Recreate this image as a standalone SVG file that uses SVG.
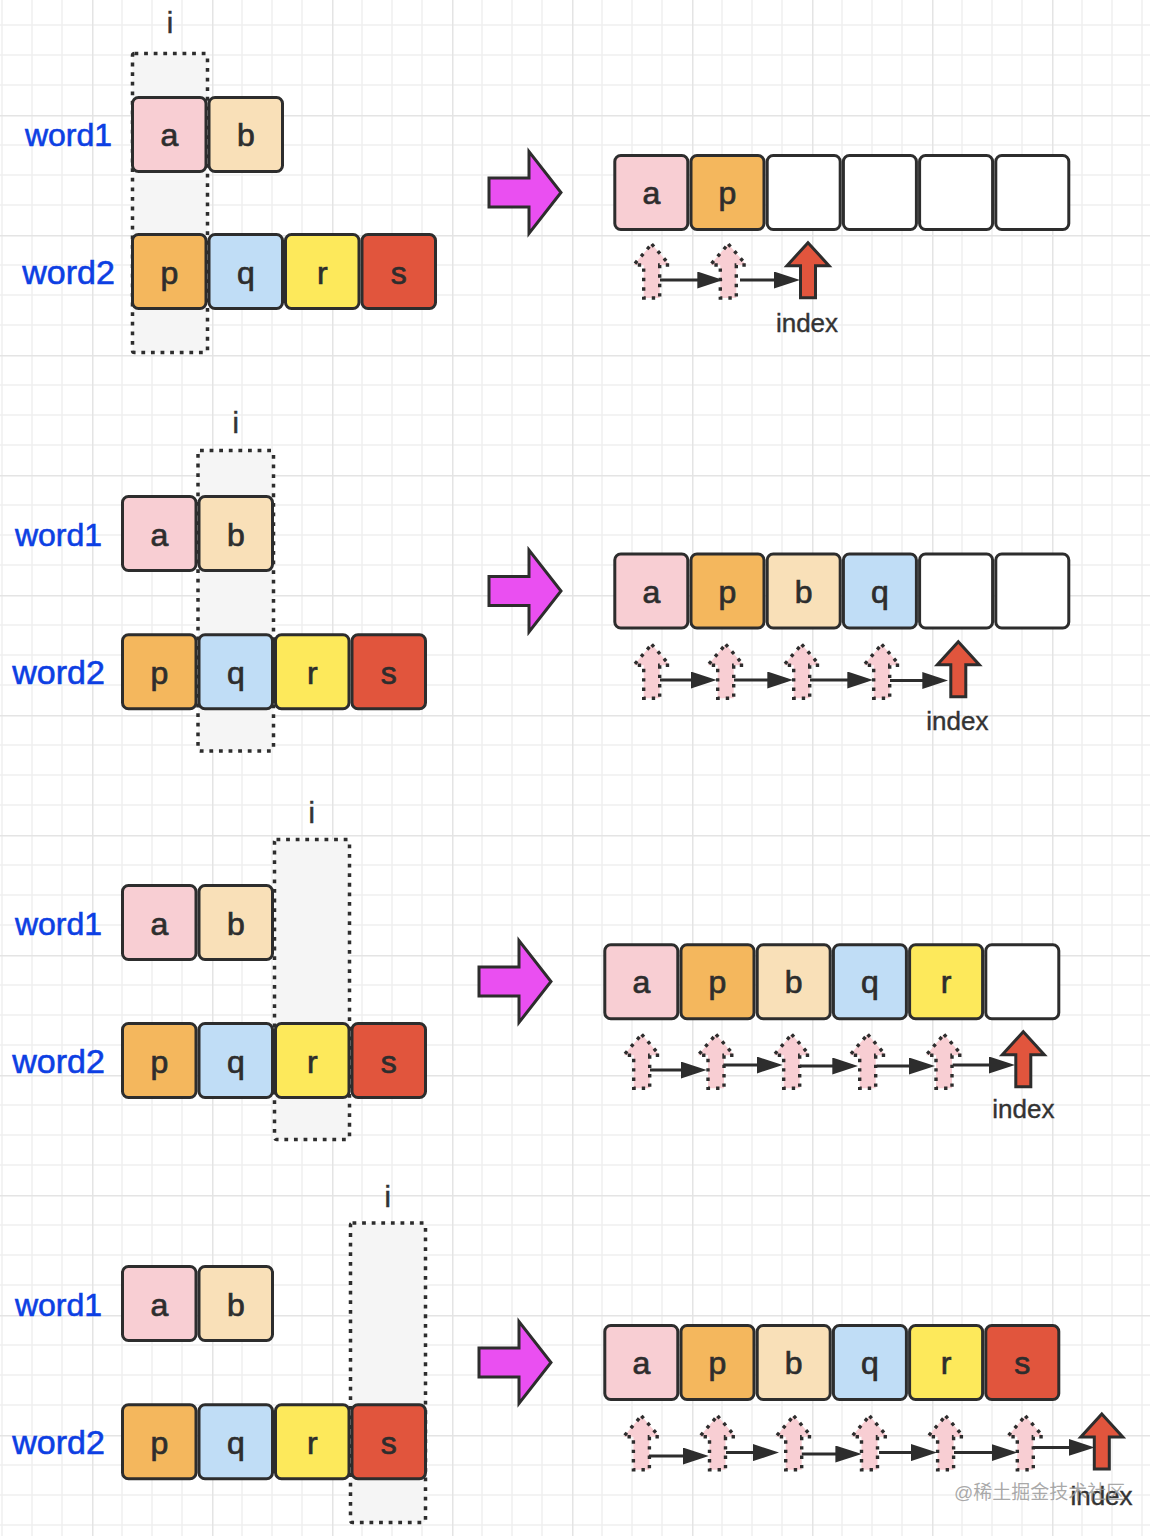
<svg xmlns="http://www.w3.org/2000/svg" width="1150" height="1536" viewBox="0 0 1150 1536">
<style>
text{font-family:"Liberation Sans",Arial,Helvetica,sans-serif;}
.cell{stroke:#2d2d2d;stroke-width:3;}
.ca{fill:#f8ced3}.cb{fill:#f9e0b8}.cp{fill:#f4b75d}.cq{fill:#c0ddf6}.cr{fill:#fde95b}.cs{fill:#e1553d}.cw{fill:#ffffff}
.ch{font-size:32px;fill:#2d2d2d;stroke:#2d2d2d;stroke-width:0.7;text-anchor:middle;}
.w1{font-size:32px;fill:#0d3fe3;stroke:#0d3fe3;stroke-width:0.6;text-anchor:middle;}
.w2{font-size:34px;fill:#0d3fe3;stroke:#0d3fe3;stroke-width:0.6;text-anchor:middle;}
.li{font-size:29px;fill:#333;stroke:#333;stroke-width:0.5;text-anchor:middle;}
.idx{font-size:26px;fill:#333;stroke:#333;stroke-width:0.4;text-anchor:middle;}
.win{fill:#f5f5f5;stroke:#2d2d2d;stroke-width:3.5;stroke-dasharray:3.8 5.8;}
.mag{fill:#ea4ff1;stroke:#2d2d2d;stroke-width:3;stroke-linejoin:miter;}
.conn{stroke:#2d2d2d;stroke-width:3;fill:none;marker-end:url(#ah);}
</style>
<defs>
<pattern id="grid" width="120" height="120" patternUnits="userSpaceOnUse" x="-28" y="-5">
<path d="M30 0V120M60 0V120M90 0V120M0 30H120M0 60H120M0 90H120" stroke="#efefef" stroke-width="1.5" fill="none"/>
<path d="M0.75 0V120M0 0.75H120" stroke="#e4e4e4" stroke-width="1.5" fill="none"/>
</pattern>
<marker id="ah" markerUnits="userSpaceOnUse" viewBox="0 0 26 17" markerWidth="26" markerHeight="17" refX="20" refY="8.5" orient="auto">
<path d="M0,0 L26,8.5 L0,17 Z" fill="#2d2d2d"/>
</marker>
<path id="pinkArrow" d="M0,0 L18,21 L8,21 L8,54 L-8,54 L-8,21 L-18,21 Z" fill="#f8ced3" stroke="#2d2d2d" stroke-width="3.4" stroke-dasharray="3.4 6"/>
<path id="redArrow" d="M0,0 L21,23 L7.5,23 L7.5,55 L-7.5,55 L-7.5,23 L-21,23 Z" fill="#e1553d" stroke="#2d2d2d" stroke-width="3"/>
<path id="magArrow" class="mag" d="M0,-14.5 L40,-14.5 L40,-41 L72,0 L40,41 L40,14.5 L0,14.5 Z"/>
</defs>
<rect width="1150" height="1536" fill="#ffffff"/>
<rect width="1150" height="1536" fill="url(#grid)"/>

<!-- Panel 1 left -->
<g id="p1-left">
<g id="p1-window"><rect class="win" x="132.5" y="53.5" width="75" height="299" rx="2"/><text class="li" x="170" y="33">i</text></g>
<g id="p1-word1-label"><text class="w1" x="68.5" y="146">word1</text></g>
<g id="p1-word2-label"><text class="w2" x="68.5" y="284">word2</text></g>
<g id="p1-w1-a"><rect class="cell ca" x="132.5" y="97.5" width="73.5" height="74" rx="6"/><text class="ch" x="169.3" y="146">a</text></g>
<g id="p1-w1-b"><rect class="cell cb" x="209" y="97.5" width="73.5" height="74" rx="6"/><text class="ch" x="245.8" y="146">b</text></g>
<g id="p1-w2-p"><rect class="cell cp" x="132.5" y="234.5" width="73.5" height="74" rx="6"/><text class="ch" x="169.3" y="283.5">p</text></g>
<g id="p1-w2-q"><rect class="cell cq" x="209" y="234.5" width="73.5" height="74" rx="6"/><text class="ch" x="245.8" y="283.5">q</text></g>
<g id="p1-w2-r"><rect class="cell cr" x="285.5" y="234.5" width="73.5" height="74" rx="6"/><text class="ch" x="322.3" y="283.5">r</text></g>
<g id="p1-w2-s"><rect class="cell cs" x="362" y="234.5" width="73.5" height="74" rx="6"/><text class="ch" x="398.8" y="283.5">s</text></g>
</g>

<!-- Panel 2 left -->
<g id="p2-left">
<g id="p2-window"><rect class="win" x="198" y="450.5" width="75.5" height="300.5" rx="2"/><text class="li" x="235.7" y="433">i</text></g>
<g id="p2-word1-label"><text class="w1" x="58.5" y="545.5">word1</text></g>
<g id="p2-word2-label"><text class="w2" x="58.5" y="684">word2</text></g>
<g id="p2-w1-a"><rect class="cell ca" x="122.5" y="496.5" width="73.5" height="74" rx="6"/><text class="ch" x="159.3" y="545.5">a</text></g>
<g id="p2-w1-b"><rect class="cell cb" x="199" y="496.5" width="73.5" height="74" rx="6"/><text class="ch" x="235.8" y="545.5">b</text></g>
<g id="p2-w2-p"><rect class="cell cp" x="122.5" y="634.8" width="73.5" height="74" rx="6"/><text class="ch" x="159.3" y="683.8">p</text></g>
<g id="p2-w2-q"><rect class="cell cq" x="199" y="634.8" width="73.5" height="74" rx="6"/><text class="ch" x="235.8" y="683.8">q</text></g>
<g id="p2-w2-r"><rect class="cell cr" x="275.5" y="634.8" width="73.5" height="74" rx="6"/><text class="ch" x="312.3" y="683.8">r</text></g>
<g id="p2-w2-s"><rect class="cell cs" x="352" y="634.8" width="73.5" height="74" rx="6"/><text class="ch" x="388.8" y="683.8">s</text></g>
</g>

<!-- Panel 3 left -->
<g id="p3-left">
<g id="p3-window"><rect class="win" x="274.5" y="839.5" width="75" height="300" rx="2"/><text class="li" x="311.7" y="823">i</text></g>
<g id="p3-word1-label"><text class="w1" x="58.5" y="934.5">word1</text></g>
<g id="p3-word2-label"><text class="w2" x="58.5" y="1073">word2</text></g>
<g id="p3-w1-a"><rect class="cell ca" x="122.5" y="885.5" width="73.5" height="74" rx="6"/><text class="ch" x="159.3" y="934.5">a</text></g>
<g id="p3-w1-b"><rect class="cell cb" x="199" y="885.5" width="73.5" height="74" rx="6"/><text class="ch" x="235.8" y="934.5">b</text></g>
<g id="p3-w2-p"><rect class="cell cp" x="122.5" y="1023.5" width="73.5" height="74" rx="6"/><text class="ch" x="159.3" y="1072.5">p</text></g>
<g id="p3-w2-q"><rect class="cell cq" x="199" y="1023.5" width="73.5" height="74" rx="6"/><text class="ch" x="235.8" y="1072.5">q</text></g>
<g id="p3-w2-r"><rect class="cell cr" x="275.5" y="1023.5" width="73.5" height="74" rx="6"/><text class="ch" x="312.3" y="1072.5">r</text></g>
<g id="p3-w2-s"><rect class="cell cs" x="352" y="1023.5" width="73.5" height="74" rx="6"/><text class="ch" x="388.8" y="1072.5">s</text></g>
</g>

<!-- Panel 4 left -->
<g id="p4-left">
<g id="p4-window"><rect class="win" x="350.5" y="1223" width="75" height="299.5" rx="2"/><text class="li" x="387.7" y="1206.7">i</text></g>
<g id="p4-word1-label"><text class="w1" x="58.5" y="1315.5">word1</text></g>
<g id="p4-word2-label"><text class="w2" x="58.5" y="1454">word2</text></g>
<g id="p4-w1-a"><rect class="cell ca" x="122.5" y="1266.5" width="73.5" height="74" rx="6"/><text class="ch" x="159.3" y="1315.5">a</text></g>
<g id="p4-w1-b"><rect class="cell cb" x="199" y="1266.5" width="73.5" height="74" rx="6"/><text class="ch" x="235.8" y="1315.5">b</text></g>
<g id="p4-w2-p"><rect class="cell cp" x="122.5" y="1404.8" width="73.5" height="74" rx="6"/><text class="ch" x="159.3" y="1453.8">p</text></g>
<g id="p4-w2-q"><rect class="cell cq" x="199" y="1404.8" width="73.5" height="74" rx="6"/><text class="ch" x="235.8" y="1453.8">q</text></g>
<g id="p4-w2-r"><rect class="cell cr" x="275.5" y="1404.8" width="73.5" height="74" rx="6"/><text class="ch" x="312.3" y="1453.8">r</text></g>
<g id="p4-w2-s"><rect class="cell cs" x="352" y="1404.8" width="73.5" height="74" rx="6"/><text class="ch" x="388.8" y="1453.8">s</text></g>
</g>

<!-- Big magenta arrows -->
<g id="p1-step-arrow"><use href="#magArrow" x="489" y="192.5"/></g>
<g id="p2-step-arrow"><use href="#magArrow" x="489" y="591"/></g>
<g id="p3-step-arrow"><use href="#magArrow" x="479" y="981.5"/></g>
<g id="p4-step-arrow"><use href="#magArrow" x="479" y="1362.5"/></g>

<!-- Panel 1 result -->
<g id="p1-result">
<g id="p1-r0"><rect class="cell ca" x="614.8" y="155.5" width="73" height="74" rx="6"/><text class="ch" x="651.3" y="204">a</text></g>
<g id="p1-r1"><rect class="cell cp" x="691" y="155.5" width="73" height="74" rx="6"/><text class="ch" x="727.5" y="204">p</text></g>
<g id="p1-r2"><rect class="cell cw" x="767.2" y="155.5" width="73" height="74" rx="6"/></g>
<g id="p1-r3"><rect class="cell cw" x="843.4" y="155.5" width="73" height="74" rx="6"/></g>
<g id="p1-r4"><rect class="cell cw" x="919.6" y="155.5" width="73" height="74" rx="6"/></g>
<g id="p1-r5"><rect class="cell cw" x="995.8" y="155.5" width="73" height="74" rx="6"/></g>
<g id="p1-ptr0"><use href="#pinkArrow" x="651.7" y="244"/></g>
<g id="p1-ptr1"><use href="#pinkArrow" x="728.3" y="244"/></g>
<g id="p1-index"><use href="#redArrow" x="808" y="242.7"/><text class="idx" x="807" y="331.5">index</text></g>
</g>

<!-- Panel 2 result -->
<g id="p2-result">
<g id="p2-r0"><rect class="cell ca" x="614.8" y="554" width="73" height="74" rx="6"/><text class="ch" x="651.3" y="602.5">a</text></g>
<g id="p2-r1"><rect class="cell cp" x="691" y="554" width="73" height="74" rx="6"/><text class="ch" x="727.5" y="602.5">p</text></g>
<g id="p2-r2"><rect class="cell cb" x="767.2" y="554" width="73" height="74" rx="6"/><text class="ch" x="803.7" y="602.5">b</text></g>
<g id="p2-r3"><rect class="cell cq" x="843.4" y="554" width="73" height="74" rx="6"/><text class="ch" x="879.9" y="602.5">q</text></g>
<g id="p2-r4"><rect class="cell cw" x="919.6" y="554" width="73" height="74" rx="6"/></g>
<g id="p2-r5"><rect class="cell cw" x="995.8" y="554" width="73" height="74" rx="6"/></g>
<g id="p2-ptr0"><use href="#pinkArrow" x="651.7" y="644.3"/></g>
<g id="p2-ptr1"><use href="#pinkArrow" x="725.7" y="644.3"/></g>
<g id="p2-ptr2"><use href="#pinkArrow" x="801.7" y="644.3"/></g>
<g id="p2-ptr3"><use href="#pinkArrow" x="881.7" y="644.3"/></g>
<g id="p2-index"><use href="#redArrow" x="958.3" y="641.7"/><text class="idx" x="957.3" y="730">index</text></g>
</g>

<!-- Panel 3 result -->
<g id="p3-result">
<g id="p3-r0"><rect class="cell ca" x="604.8" y="944.8" width="73" height="74" rx="6"/><text class="ch" x="641.3" y="993">a</text></g>
<g id="p3-r1"><rect class="cell cp" x="681" y="944.8" width="73" height="74" rx="6"/><text class="ch" x="717.5" y="993">p</text></g>
<g id="p3-r2"><rect class="cell cb" x="757.2" y="944.8" width="73" height="74" rx="6"/><text class="ch" x="793.7" y="993">b</text></g>
<g id="p3-r3"><rect class="cell cq" x="833.4" y="944.8" width="73" height="74" rx="6"/><text class="ch" x="869.9" y="993">q</text></g>
<g id="p3-r4"><rect class="cell cr" x="909.6" y="944.8" width="73" height="74" rx="6"/><text class="ch" x="946.1" y="993">r</text></g>
<g id="p3-r5"><rect class="cell cw" x="985.8" y="944.8" width="73" height="74" rx="6"/></g>
<g id="p3-ptr0"><use href="#pinkArrow" x="641.7" y="1034.3"/></g>
<g id="p3-ptr1"><use href="#pinkArrow" x="716" y="1034.3"/></g>
<g id="p3-ptr2"><use href="#pinkArrow" x="791.7" y="1034.3"/></g>
<g id="p3-ptr3"><use href="#pinkArrow" x="867.7" y="1034.3"/></g>
<g id="p3-ptr4"><use href="#pinkArrow" x="944" y="1034.3"/></g>
<g id="p3-index"><use href="#redArrow" x="1023.3" y="1031.7"/><text class="idx" x="1023.3" y="1118.3">index</text></g>
</g>

<!-- Panel 4 result -->
<g id="p4-result">
<g id="p4-r0"><rect class="cell ca" x="604.8" y="1325.5" width="73" height="74" rx="6"/><text class="ch" x="641.3" y="1374">a</text></g>
<g id="p4-r1"><rect class="cell cp" x="681" y="1325.5" width="73" height="74" rx="6"/><text class="ch" x="717.5" y="1374">p</text></g>
<g id="p4-r2"><rect class="cell cb" x="757.2" y="1325.5" width="73" height="74" rx="6"/><text class="ch" x="793.7" y="1374">b</text></g>
<g id="p4-r3"><rect class="cell cq" x="833.4" y="1325.5" width="73" height="74" rx="6"/><text class="ch" x="869.9" y="1374">q</text></g>
<g id="p4-r4"><rect class="cell cr" x="909.6" y="1325.5" width="73" height="74" rx="6"/><text class="ch" x="946.1" y="1374">r</text></g>
<g id="p4-r5"><rect class="cell cs" x="985.8" y="1325.5" width="73" height="74" rx="6"/><text class="ch" x="1022.3" y="1374">s</text></g>
<g id="p4-ptr0"><use href="#pinkArrow" x="641.4" y="1415.8"/></g>
<g id="p4-ptr1"><use href="#pinkArrow" x="717.5" y="1415.8"/></g>
<g id="p4-ptr2"><use href="#pinkArrow" x="793.7" y="1415.8"/></g>
<g id="p4-ptr3"><use href="#pinkArrow" x="869.5" y="1415.8"/></g>
<g id="p4-ptr4"><use href="#pinkArrow" x="945.6" y="1415.8"/></g>
<g id="p4-ptr5"><use href="#pinkArrow" x="1025.3" y="1415.8"/></g>
<g id="p4-index"><use href="#redArrow" x="1101.8" y="1414"/><text class="idx" x="1101.5" y="1505">index</text></g>
</g>

<!-- Connectors -->
<g id="connectors">
<line class="conn" x1="660" y1="280" x2="717.3" y2="280"/>
<line class="conn" x1="740" y1="280" x2="794" y2="280"/>

<line class="conn" x1="660" y1="680" x2="710.7" y2="680"/>
<line class="conn" x1="734" y1="680" x2="787.3" y2="680"/>
<line class="conn" x1="810" y1="680" x2="867.3" y2="680"/>
<line class="conn" x1="890" y1="680.5" x2="942.3" y2="680.5"/>

<line class="conn" x1="650" y1="1070" x2="700.7" y2="1070"/>
<line class="conn" x1="723.3" y1="1065" x2="776.7" y2="1065"/>
<line class="conn" x1="800" y1="1066" x2="852.3" y2="1066"/>
<line class="conn" x1="876.7" y1="1066" x2="929" y2="1066"/>
<line class="conn" x1="952.7" y1="1065" x2="1009" y2="1065"/>

<line class="conn" x1="649" y1="1456" x2="702.8" y2="1456"/>
<line class="conn" x1="726" y1="1452.6" x2="773" y2="1452.6"/>
<line class="conn" x1="801.8" y1="1454" x2="855.4" y2="1454"/>
<line class="conn" x1="879" y1="1452.6" x2="931" y2="1452.6"/>
<line class="conn" x1="954" y1="1452.6" x2="1011.5" y2="1452.6"/>
<line class="conn" x1="1033" y1="1447.4" x2="1088.7" y2="1447.4"/>
</g>

<text x="954" y="1499" font-size="19" fill="#9a9a9a" fill-opacity="0.85" style="font-family:'Liberation Sans','Noto Sans CJK SC',sans-serif">@稀土掘金技术社区</text>
</svg>
